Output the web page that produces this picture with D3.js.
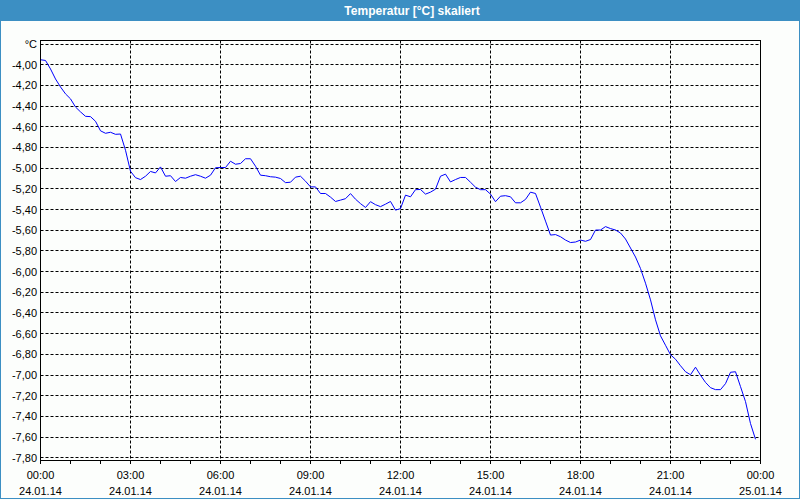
<!DOCTYPE html>
<html>
<head>
<meta charset="utf-8">
<script src="https://cdn.jsdelivr.net/npm/d3@7"></script>
<style>
  html, body { margin: 0; padding: 0; background: #fcfefc; }
  svg { display: block; }
</style>
</head>
<body>
<svg id="chart" width="800" height="500"></svg>
<script>
const title = "Temperatur [°C] skaliert";
const unitLabel = "°C";
// 10-minute samples from 24.01.14 00:00 to 23:50
const sampleMinutes = 10;
const temps = [
  -3.952, -3.959, -4.041, -4.138, -4.215, -4.282, -4.330, -4.409, -4.456, -4.499,
  -4.502, -4.547, -4.639, -4.663, -4.653, -4.673, -4.670, -4.827, -5.030, -5.092,
  -5.110, -5.078, -5.032, -5.046, -4.988, -5.078, -5.073, -5.129, -5.090, -5.097,
  -5.078, -5.063, -5.078, -5.097, -5.068, -4.996, -4.994, -4.994, -4.933, -4.962,
  -4.955, -4.909, -4.909, -4.981, -5.068, -5.073, -5.083, -5.087, -5.100, -5.140,
  -5.136, -5.087, -5.078, -5.126, -5.181, -5.181, -5.245, -5.245, -5.280, -5.322,
  -5.309, -5.295, -5.246, -5.300, -5.343, -5.380, -5.324, -5.353, -5.372, -5.348,
  -5.322, -5.406, -5.391, -5.261, -5.277, -5.208, -5.206, -5.251, -5.232, -5.203,
  -5.078, -5.058, -5.133, -5.110, -5.090, -5.090, -5.136, -5.184, -5.208, -5.208,
  -5.251, -5.324, -5.271, -5.266, -5.277, -5.335, -5.335, -5.302, -5.232, -5.245,
  -5.377, -5.512, -5.647, -5.642, -5.663, -5.695, -5.719, -5.714, -5.695, -5.707,
  -5.690, -5.598, -5.598, -5.565, -5.584, -5.598, -5.627, -5.685, -5.772, -5.859,
  -5.970, -6.112, -6.273, -6.466, -6.621, -6.712, -6.804, -6.847, -6.910, -6.968,
  -6.997, -6.924, -7.002, -7.071, -7.122, -7.141, -7.141, -7.083, -6.973, -6.968,
  -7.112, -7.257, -7.469, -7.621
];
const yTicks = [-3.8, -4.0, -4.2, -4.4, -4.6, -4.8, -5.0, -5.2, -5.4, -5.6, -5.8,
  -6.0, -6.2, -6.4, -6.6, -6.8, -7.0, -7.2, -7.4, -7.6, -7.8];
const xTickHours = [0, 3, 6, 9, 12, 15, 18, 21, 24];
const xTimeLabels = ["00:00", "03:00", "06:00", "09:00", "12:00", "15:00", "18:00", "21:00", "00:00"];
const xDateLabels = ["24.01.14", "24.01.14", "24.01.14", "24.01.14", "24.01.14", "24.01.14", "24.01.14", "24.01.14", "25.01.14"];
const yDomain = [-7.826, -3.766];
const xDomain = [0, 24];

const svg = d3.select("#chart");
const W = 800, H = 500;
const plot = { left: 40.5, right: 760.5, top: 40.5, bottom: 460.5 };
const font = "'Liberation Sans', Arial, sans-serif";

// background and window border
svg.append("rect").attr("x", 0).attr("y", 0).attr("width", W).attr("height", H).attr("fill", "#fcfefc");
svg.append("rect").attr("x", 0).attr("y", 0).attr("width", W).attr("height", 21).attr("fill", "#3c8fc3");
svg.append("rect").attr("x", 0.5).attr("y", 0.5).attr("width", W - 1).attr("height", H - 2)
  .attr("fill", "none").attr("stroke", "#3c8fc3").attr("stroke-width", 1);
svg.append("text").attr("x", W / 2 + 12).attr("y", 14.5).attr("text-anchor", "middle")
  .attr("font-family", font).attr("font-weight", "bold").attr("font-size", 12)
  .attr("fill", "#ffffff").text(title);

const x = d3.scaleLinear().domain(xDomain).range([plot.left, plot.right]);
const y = d3.scaleLinear().domain(yDomain).range([plot.bottom, plot.top]);
const px = v => Math.round(v - 0.5) + 0.5;

// horizontal dashed gridlines
svg.append("g").selectAll("line").data(yTicks).join("line")
  .attr("x1", plot.left).attr("x2", plot.right)
  .attr("y1", d => px(y(d))).attr("y2", d => px(y(d)))
  .attr("stroke", "#000").attr("stroke-width", 1).attr("stroke-dasharray", "3,2");

// vertical dashed gridlines
svg.append("g").selectAll("line").data(xTickHours.slice(1, -1)).join("line")
  .attr("x1", d => px(x(d))).attr("x2", d => px(x(d)))
  .attr("y1", plot.top).attr("y2", plot.bottom)
  .attr("stroke", "#000").attr("stroke-width", 1).attr("stroke-dasharray", "3,2");

// data line
const line = d3.line()
  .x((d, i) => x(i * sampleMinutes / 60))
  .y(d => y(d));
svg.append("path").datum(temps).attr("d", line)
  .attr("fill", "none").attr("stroke", "#0000ff").attr("stroke-width", 1);

// plot frame
svg.append("rect").attr("x", plot.left).attr("y", plot.top)
  .attr("width", plot.right - plot.left).attr("height", plot.bottom - plot.top)
  .attr("fill", "none").attr("stroke", "#000").attr("stroke-width", 1);

// bottom axis: hourly minor ticks
const hourTicks = d3.range(0, 25);
svg.append("g").selectAll("line").data(hourTicks).join("line")
  .attr("x1", d => px(x(d))).attr("x2", d => px(x(d)))
  .attr("y1", plot.bottom).attr("y2", plot.bottom + 3.5)
  .attr("stroke", "#000").attr("stroke-width", 1);

// x labels
const xl = svg.append("g").attr("font-family", font).attr("font-size", 11).attr("fill", "#000")
  .attr("text-anchor", "middle");
xl.selectAll("text.t").data(xTickHours).join("text").attr("class", "t")
  .attr("x", d => x(d)).attr("y", 479).text((d, i) => xTimeLabels[i]);
xl.selectAll("text.d").data(xTickHours).join("text").attr("class", "d")
  .attr("x", d => x(d)).attr("y", 495).text((d, i) => xDateLabels[i]);

// y labels
const fmt = v => d3.format(".2f")(v).replace("−", "-").replace(".", ",");
svg.append("g").attr("font-family", font).attr("font-size", 11).attr("fill", "#000")
  .attr("text-anchor", "end")
  .selectAll("text").data(yTicks).join("text")
  .attr("x", 37).attr("y", d => y(d) + 4)
  .text((d, i) => i === 0 ? unitLabel : fmt(d));
</script>
</body>
</html>
